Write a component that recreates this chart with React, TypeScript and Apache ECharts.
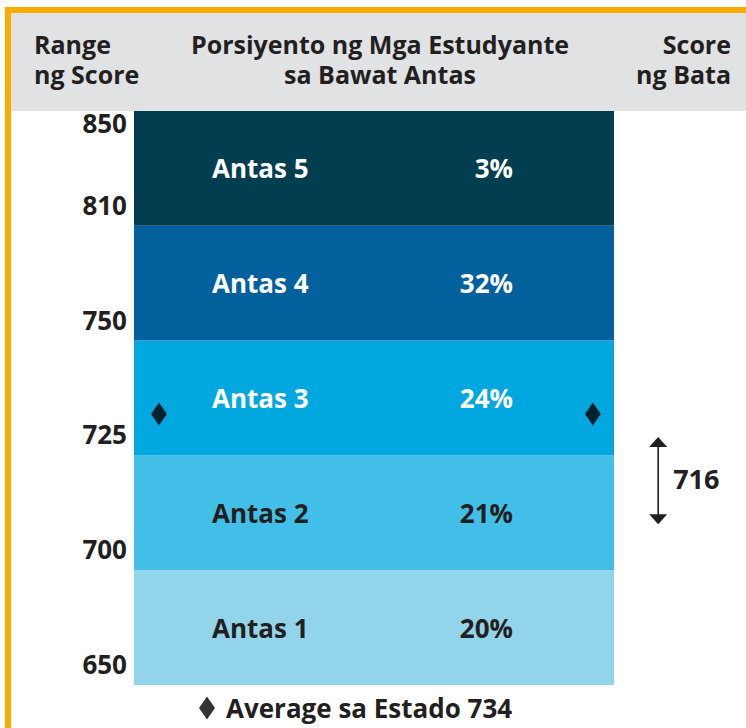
import React, { useEffect, useRef } from "react";
import * as echarts from "echarts";

const rangeTicks = [650, 700, 725, 750, 810, 850];
const levels = ["Antas 1", "Antas 2", "Antas 3", "Antas 4", "Antas 5"];
const percents = [20, 21, 24, 32, 3];
const levelColors = ["#92d5eb", "#41bfe8", "#00a8df", "#02619d", "#013e50"];
const levelTextColors = ["#231f20", "#231f20", "#ffffff", "#ffffff", "#ffffff"];
const stateAverage = 734;
const childScore = 716;
const childRange = [710, 729];

const headerLeft = ["Range", "ng Score"];
const headerMid = ["Porsiyento ng Mga Estudyante", "sa Bawat Antas"];
const headerRight = ["Score", "ng Bata"];

const FONT = '"Open Sans", "Noto Sans", sans-serif';
const DARK = "#231f20";
const ORANGE = "#fdab00";

// piecewise mapping of a score onto the banded axis (one unit per level)
function scoreToBand(v: number): number {
  for (let i = 0; i < rangeTicks.length - 1; i++) {
    const a = rangeTicks[i];
    const b = rangeTicks[i + 1];
    if (v >= a && v <= b) return i + (v - a) / (b - a);
  }
  return v < rangeTicks[0] ? 0 : rangeTicks.length - 1;
}

function headerTexts(lines: string[], x: number, align: string) {
  return lines.map((t, i) => ({
    type: "text",
    x,
    y: 44 + i * 30,
    style: {
      text: t,
      fill: DARK,
      fontSize: 25,
      fontWeight: "bold",
      fontFamily: FONT,
      align,
      verticalAlign: "middle",
    },
  }));
}

export default function App() {
  const ref = useRef<HTMLDivElement>(null);

  useEffect(() => {
    if (!ref.current) return;
    const chart = echarts.init(ref.current, null, { renderer: "svg" });
    const legendName = `Average sa Estado ${stateAverage}`;
    const avgPos = scoreToBand(stateAverage);

    const option: any = {
      animation: false,
      backgroundColor: "#ffffff",
      textStyle: { fontFamily: FONT },
      grid: { left: 134, right: 132, top: 111, bottom: 43, containLabel: false },
      xAxis: [
        {
          type: "value",
          min: 0,
          max: 1,
          show: false,
        },
      ],
      yAxis: [
        {
          type: "category",
          data: levels,
          show: false,
        },
        {
          type: "value",
          min: 0,
          max: levels.length,
          interval: 1,
          position: "left",
          axisLine: { show: false },
          axisTick: { show: false },
          splitLine: { show: false },
          axisLabel: {
            margin: 7,
            color: DARK,
            fontSize: 26,
            fontWeight: "bold",
            fontFamily: FONT,
            formatter: (v: number) => {
              const idx = Math.round(v);
              const t = rangeTicks[idx];
              return idx === rangeTicks.length - 1 ? `{top|${t}}` : `{up|${t}}`;
            },
            rich: {
              top: {
                fontSize: 26,
                fontWeight: "bold",
                fontFamily: FONT,
                color: DARK,
                padding: [24, 0, 0, 0],
              },
              up: {
                fontSize: 26,
                fontWeight: "bold",
                fontFamily: FONT,
                color: DARK,
                padding: [0, 0, 42, 0],
              },
            },
          },
        },
      ],
      legend: {
        left: 199,
        top: 695,
        padding: 0,
        selectedMode: false,
        itemWidth: 16,
        itemHeight: 23,
        data: [{ name: legendName, icon: "diamond", itemStyle: { color: "#000" } }],
        textStyle: {
          color: DARK,
          fontSize: 26,
          fontWeight: "bold",
          fontFamily: FONT,
          padding: [0, 0, 0, 6],
        },
      },
      graphic: [
        {
          type: "rect",
          z: -10,
          shape: { x: 11, y: 13, width: 735, height: 98 },
          style: { fill: "#e1e2e4" },
        },
        {
          type: "rect",
          z: -10,
          shape: { x: 5, y: 7, width: 741, height: 6 },
          style: { fill: ORANGE },
        },
        {
          type: "rect",
          z: -10,
          shape: { x: 5, y: 7, width: 6, height: 721 },
          style: { fill: ORANGE },
        },
        ...headerTexts(headerLeft, 34, "left"),
        ...headerTexts(headerMid, 380, "center"),
        ...headerTexts(headerRight, 731, "right"),
      ],
      series: [
        {
          type: "bar",
          xAxisIndex: 0,
          yAxisIndex: 0,
          barWidth: "100%",
          barCategoryGap: "0%",
          silent: true,
          data: levels.map((n, i) => ({
            value: 1,
            name: n,
            itemStyle: { color: levelColors[i] },
            label: {
              rich: {
                n: { color: levelTextColors[i], fontSize: 26, fontWeight: "bold", fontFamily: FONT, width: 199, align: "left" },
                p: { color: levelTextColors[i], fontSize: 26, fontWeight: "bold", fontFamily: FONT, width: 102, align: "right" },
              },
            },
          })),
          label: {
            show: true,
            position: [78, "50%"],
            align: "left",
            verticalAlign: "middle",
            formatter: (p: any) => `{n|${p.name}}{p|${percents[p.dataIndex]}%}`,
          },
        },
        {
          type: "scatter",
          name: legendName,
          xAxisIndex: 0,
          yAxisIndex: 1,
          symbol: "diamond",
          symbolSize: [16, 23],
          itemStyle: { color: "#000" },
          silent: true,
          data: [
            [0.052, avgPos],
            [0.956, avgPos],
          ],
        },
        {
          type: "custom",
          xAxisIndex: 0,
          yAxisIndex: 1,
          silent: true,
          encode: { x: 0, y: [1, 2] },
          data: [[1.092, scoreToBand(childRange[0]), scoreToBand(childRange[1]), childScore]],
          renderItem: (params: any, api: any) => {
            const top = api.coord([api.value(0), api.value(2)]);
            const bot = api.coord([api.value(0), api.value(1)]);
            const x = top[0];
            const hw = 9;
            const hh = 10;
            return {
              type: "group",
              children: [
                {
                  type: "line",
                  shape: { x1: x, y1: top[1] + hh - 1, x2: x, y2: bot[1] - hh + 1 },
                  style: { stroke: DARK, lineWidth: 1.6 },
                },
                {
                  type: "polygon",
                  shape: { points: [[x, top[1]], [x - hw, top[1] + hh], [x + hw, top[1] + hh]] },
                  style: { fill: DARK },
                },
                {
                  type: "polygon",
                  shape: { points: [[x, bot[1]], [x - hw, bot[1] - hh], [x + hw, bot[1] - hh]] },
                  style: { fill: DARK },
                },
                {
                  type: "text",
                  x: x + 15,
                  y: (top[1] + bot[1]) / 2 - 2,
                  style: {
                    text: String(api.value(3)),
                    fill: DARK,
                    fontSize: 27,
                    fontWeight: "bold",
                    fontFamily: FONT,
                    align: "left",
                    verticalAlign: "middle",
                  },
                },
              ],
            };
          },
        },
      ],
    };

    chart.setOption(option);
    return () => chart.dispose();
  }, []);

  return (
    <div
      ref={ref}
      style={{ position: "fixed", left: 0, top: 0, width: 746, height: 728 }}
    />
  );
}
